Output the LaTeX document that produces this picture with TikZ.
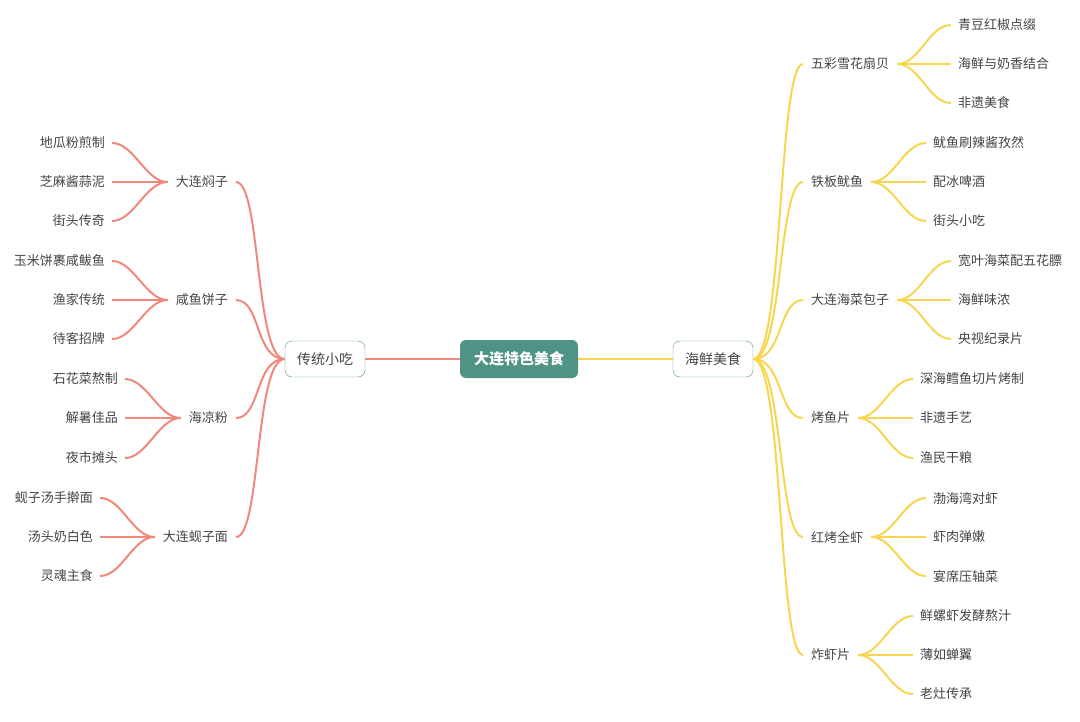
\documentclass[tikz,border=0pt]{standalone}
\usepackage{fontspec}
\setmainfont{Noto Sans CJK SC}
\usetikzlibrary{positioning}
\definecolor{rootteal}{HTML}{4E9383}
\definecolor{leftred}{HTML}{F0887C}
\definecolor{rightyel}{HTML}{F7D54F}
\definecolor{txtgray}{HTML}{444444}
\begin{document}
\begin{tikzpicture}[x=1pt,y=-1pt,
root/.style={rectangle, rounded corners=6pt, fill=rootteal, text=white, font=\fontsize{15}{17}\selectfont\bfseries, minimum width=118pt, minimum height=38pt},
branch/.style={rectangle, rounded corners=7pt, draw=rootteal, fill=white, text=txtgray, font=\fontsize{14}{16}\selectfont, minimum width=80pt, minimum height=36pt},
sub/.style={text=txtgray, font=\fontsize{13}{15}\selectfont, inner xsep=8pt},
leaf/.style={text=txtgray, font=\fontsize{13}{15}\selectfont, inner xsep=7pt},
redline/.style={draw=leftred, line width=2pt},
yelline/.style={draw=rightyel, line width=2pt}
]
\useasboundingbox (0,0) rectangle (1080,721);
\node[root] (root) at (519,359) {大连特色美食};
\node[branch] (snack) at (325,359) {传统小吃};
\node[branch] (sea) at (713,359) {海鲜美食};

% left side
\node[sub, anchor=east] (s1) at (236,182) {大连焖子};
\node[sub, anchor=east] (s2) at (236,300) {咸鱼饼子};
\node[sub, anchor=east] (s3) at (236,418) {海凉粉};
\node[sub, anchor=east] (s4) at (236,537) {大连蚬子面};
\node[leaf, anchor=east] (s1a) at (112,143) {地瓜粉煎制};
\node[leaf, anchor=east] (s1b) at (112,182) {芝麻酱蒜泥};
\node[leaf, anchor=east] (s1c) at (112,221) {街头传奇};
\node[leaf, anchor=east] (s2a) at (112,261) {玉米饼裹咸鲅鱼};
\node[leaf, anchor=east] (s2b) at (112,300) {渔家传统};
\node[leaf, anchor=east] (s2c) at (112,339) {待客招牌};
\node[leaf, anchor=east] (s3a) at (125,379) {石花菜熬制};
\node[leaf, anchor=east] (s3b) at (125,418) {解暑佳品};
\node[leaf, anchor=east] (s3c) at (125,458) {夜市摊头};
\node[leaf, anchor=east] (s4a) at (100,498) {蚬子汤手擀面};
\node[leaf, anchor=east] (s4b) at (100,537) {汤头奶白色};
\node[leaf, anchor=east] (s4c) at (100,576) {灵魂主食};

% right side
\node[sub, anchor=west] (r1) at (803,64) {五彩雪花扇贝};
\node[sub, anchor=west] (r2) at (803,182) {铁板鱿鱼};
\node[sub, anchor=west] (r3) at (803,300) {大连海菜包子};
\node[sub, anchor=west] (r4) at (803,418) {烤鱼片};
\node[sub, anchor=west] (r5) at (803,537) {红烤全虾};
\node[sub, anchor=west] (r6) at (803,655) {炸虾片};
\node[leaf, anchor=west] (r1a) at (951,25) {青豆红椒点缀};
\node[leaf, anchor=west] (r1b) at (951,64) {海鲜与奶香结合};
\node[leaf, anchor=west] (r1c) at (951,103) {非遗美食};
\node[leaf, anchor=west] (r2a) at (926,143) {鱿鱼刷辣酱孜然};
\node[leaf, anchor=west] (r2b) at (926,182) {配冰啤酒};
\node[leaf, anchor=west] (r2c) at (926,221) {街头小吃};
\node[leaf, anchor=west] (r3a) at (951,261) {宽叶海菜配五花膘};
\node[leaf, anchor=west] (r3b) at (951,300) {海鲜味浓};
\node[leaf, anchor=west] (r3c) at (951,339) {央视纪录片};
\node[leaf, anchor=west] (r4a) at (913,379) {深海鳕鱼切片烤制};
\node[leaf, anchor=west] (r4b) at (913,418) {非遗手艺};
\node[leaf, anchor=west] (r4c) at (913,458) {渔民干粮};
\node[leaf, anchor=west] (r5a) at (926,498) {渤海湾对虾};
\node[leaf, anchor=west] (r5b) at (926,537) {虾肉弹嫩};
\node[leaf, anchor=west] (r5c) at (926,576) {宴席压轴菜};
\node[leaf, anchor=west] (r6a) at (913,616) {鲜螺虾发酵熬汁};
\node[leaf, anchor=west] (r6b) at (913,655) {薄如蝉翼};
\node[leaf, anchor=west] (r6c) at (913,694) {老灶传承};

\draw[redline] (root)--(snack);
\draw[yelline] (root)--(sea);
\foreach \s in {s1,s2,s3,s4}
  \draw[redline] (snack.west) .. controls +(-30,0) and +(25,0) .. (\s.east);
\foreach \s in {s1,s2,s3,s4}
  \foreach \l in {a,b,c}
    \draw[redline] (\s.west) .. controls +(-22,0) and +(22,0) .. (\s\l.east);
\foreach \s in {r1,r2,r3,r4,r5,r6}
  \draw[yelline] (sea.east) .. controls +(30,0) and +(-25,0) .. (\s.west);
\foreach \s in {r1,r2,r3,r4,r5,r6}
  \foreach \l in {a,b,c}
    \draw[yelline] (\s.east) .. controls +(22,0) and +(-22,0) .. (\s\l.west);
\end{tikzpicture}
\end{document}
